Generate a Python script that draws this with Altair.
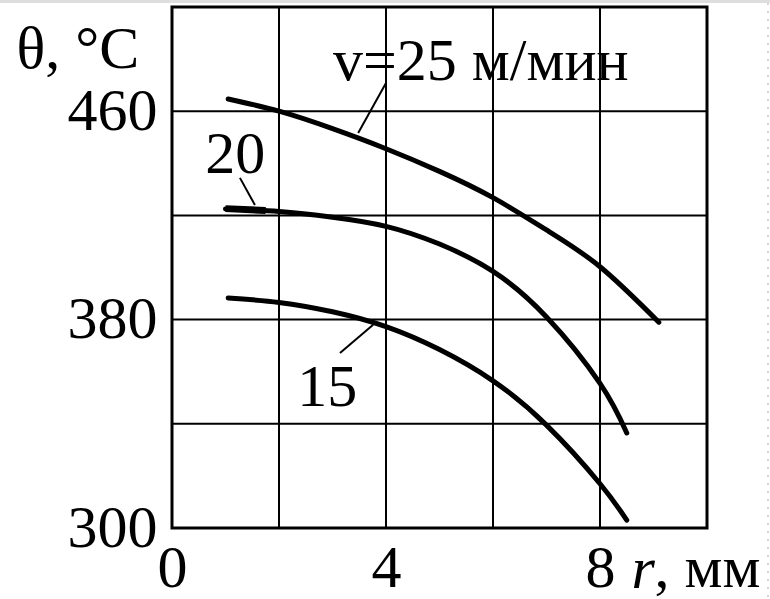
import altair as alt
import pandas as pd

# curve data (r in mm, theta in °C)
r15 = [1.05, 2, 3, 4, 5, 6, 7, 8, 8.5]
t15 = [388.3, 386.6, 383, 377.3, 368.5, 356.5, 339.5, 317, 303]
r20 = [1.0, 2, 3, 4, 5, 6, 7, 8, 8.5]
t20 = [422.5, 421.5, 419.3, 415.8, 409, 398.5, 381, 355.5, 336.5]
r25 = [1.05, 2, 3, 4, 5, 6, 7, 8, 9.1]
t25 = [464.7, 460, 453.3, 445.6, 436.9, 426.8, 414.4, 400.3, 379]

# thick start of the v=20 curve
stub_r = [1.0, 1.75]
stub_t = [422.6, 421.9]

x_grid = [0, 2, 4, 6, 8, 10]
y_grid = [300, 340, 380, 420, 460, 500]
x_labels = [0, 4, 8]
y_labels = [300, 380, 460]

label_text = ["v=25 м/мин", "20", "15"]
label_r = [3.01, 1.18, 2.9]
label_t = [472, 436.3, 346.8]
label_align = ["left", "center", "center"]

lead_r1 = [3.48, 1.27, 3.14]
lead_t1 = [451.6, 434.4, 367.2]
lead_r2 = [4.0, 1.55, 3.76]
lead_t2 = [470.8, 424, 378]

FONT = "Liberation Serif"
FS = 60

curves = pd.concat([
    pd.DataFrame({"r": r15, "t": t15, "v": "15"}),
    pd.DataFrame({"r": r20, "t": t20, "v": "20"}),
    pd.DataFrame({"r": r25, "t": t25, "v": "25"}),
])

xs = alt.Scale(domain=[0, 10], nice=False)
ys = alt.Scale(domain=[300, 500], nice=False)

xaxis = alt.Axis(values=x_labels, grid=False, domain=False, ticks=False,
                 labelFont=FONT, labelFontSize=FS, labelColor="black",
                 labelPadding=11, labelFlush=False, labelOverlap=False,
                 title="r", titleFont=FONT, titleFontSize=FS, titleFontStyle="italic",
                 titleFontWeight="normal", titleColor="black",
                 titleX=459, titleY=59, titleAlign="left", titleBaseline="alphabetic")
yaxis = alt.Axis(values=y_labels, grid=False, domain=False, ticks=False,
                 labelFont=FONT, labelFontSize=FS, labelColor="black",
                 labelPadding=15, labelFlush=False, labelOverlap=False,
                 title="θ, °C", titleFont=FONT, titleFontSize=FS,
                 titleFontWeight="normal", titleColor="black", titleAngle=0,
                 titleX=-156, titleY=60, titleAlign="left", titleBaseline="alphabetic")

vgrid = alt.Chart(pd.DataFrame({"g": x_grid})).mark_rule(color="black", strokeWidth=2).encode(
    x=alt.X("g:Q", scale=xs, axis=xaxis))
hgrid = alt.Chart(pd.DataFrame({"g": y_grid})).mark_rule(color="black", strokeWidth=2).encode(
    y=alt.Y("g:Q", scale=ys, axis=yaxis))

lines = alt.Chart(curves).mark_line(color="black", strokeWidth=5, interpolate="natural",
                                    strokeCap="round").encode(
    x=alt.X("r:Q", scale=xs), y=alt.Y("t:Q", scale=ys), detail="v:N")

stub = alt.Chart(pd.DataFrame({"r": stub_r, "t": stub_t})).mark_line(
    color="black", strokeWidth=7, strokeCap="butt").encode(
    x=alt.X("r:Q", scale=xs), y=alt.Y("t:Q", scale=ys))

leads = alt.Chart(pd.DataFrame({"r1": lead_r1, "t1": lead_t1, "r2": lead_r2, "t2": lead_t2})).mark_rule(
    color="black", strokeWidth=2).encode(
    x=alt.X("r1:Q", scale=xs), y=alt.Y("t1:Q", scale=ys), x2="r2:Q", y2="t2:Q")

labels_df = pd.DataFrame({"text": label_text, "r": label_r, "t": label_t, "align": label_align})
lab_left = alt.Chart(labels_df[labels_df["align"] == "left"]).mark_text(
    font=FONT, fontSize=FS, align="left", baseline="alphabetic", color="black").encode(
    x=alt.X("r:Q", scale=xs), y=alt.Y("t:Q", scale=ys), text="text:N")
lab_center = alt.Chart(labels_df[labels_df["align"] == "center"]).mark_text(
    font=FONT, fontSize=FS, align="center", baseline="alphabetic", color="black").encode(
    x=alt.X("r:Q", scale=xs), y=alt.Y("t:Q", scale=ys), text="text:N")

unit = alt.Chart(pd.DataFrame({"text": [", мм"], "r": [9.02], "t": [277.4]})).mark_text(
    font=FONT, fontSize=FS, align="left", baseline="alphabetic", color="black").encode(
    x=alt.X("r:Q", scale=xs), y=alt.Y("t:Q", scale=ys), text="text:N")

# scan frame remnants: light top band and dotted right edge
top_band = alt.Chart(pd.DataFrame({"a": [0]})).mark_rule(color="#dedede", strokeWidth=3).encode(
    x=alt.value(-172), x2=alt.value(598), y=alt.value(-5.5))
right_dots = alt.Chart(pd.DataFrame({"a": [0]})).mark_rule(
    color="#c8c8c8", strokeWidth=1.5, strokeDash=[2, 6]).encode(
    x=alt.value(596), y=alt.value(-4), y2=alt.value(592))

chart = alt.layer(top_band, right_dots, vgrid, hgrid, lines, stub, leads,
                  lab_left, lab_center, unit).properties(
    width=535, height=521,
    autosize=alt.AutoSizeParams(type="none"),
    padding={"left": 172, "top": 7, "right": 63, "bottom": 71},
    background="white",
).configure_view(stroke="black", strokeWidth=3)

chart.save("out.html", embed_options={"renderer": "svg", "actions": False})
